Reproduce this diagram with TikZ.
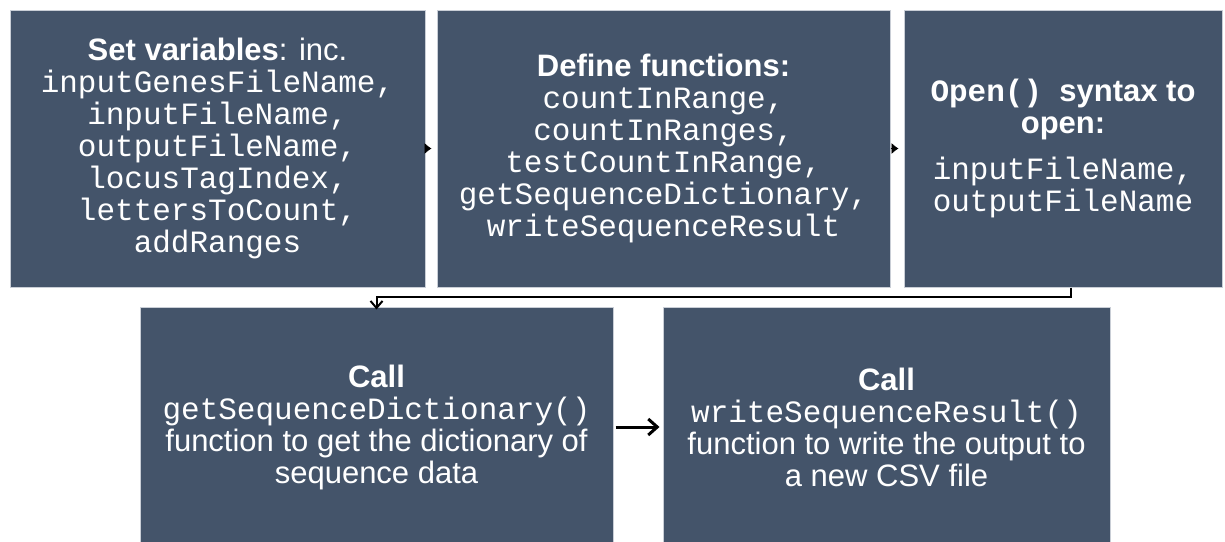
\documentclass[tikz,border=0pt]{standalone}
\usepackage{fontspec}
\setmainfont{Liberation Sans}
\setmonofont{Liberation Mono}
\usetikzlibrary{arrows.meta}
\definecolor{boxfill}{HTML}{44546A}
\definecolor{boxedge}{HTML}{C9CED6}
\tikzset{
  stepbox/.style={draw=boxedge, line width=1pt, fill=boxfill, text=white, align=center,
    inner sep=0pt, font=\fontsize{31}{32}\selectfont},
  smallarrow/.style={-{Latex[length=7,width=11]}, line width=0.6pt, shorten >=5pt},
  bigarrow/.style={-{Straight Barb[length=9,width=16]}, line width=3pt},
  elbow/.style={-{Straight Barb[length=7,width=12]}, line width=2pt}
}
\begin{document}
\begin{tikzpicture}[x=1pt,y=-1pt]
\useasboundingbox[fill=white] (0,0) rectangle (1225,541);
\node[stepbox, minimum width=415, minimum height=277] (b1) at (217.5,148.5)
 {\textbf{Set variables}: inc.\\ \texttt{inputGenesFileName,}\\ \texttt{inputFileName,}\\ \texttt{outputFileName,}\\ \texttt{locusTagIndex,}\\ \texttt{lettersToCount,}\\ \texttt{addRanges}};
\node[stepbox, minimum width=453, minimum height=277] (b2) at (663.5,148.5)
 {\textbf{Define functions:}\\ \texttt{countInRange,}\\ \texttt{countInRanges,}\\ \texttt{testCountInRange,}\\ \texttt{getSequenceDictionary,}\\ \texttt{writeSequenceResult}};
\node[stepbox, minimum width=318, minimum height=277] (b3) at (1063,148.5)
 {\textbf{\texttt{Open()}\ \ syntax to}\\ \textbf{open:}\\[14pt] \texttt{inputFileName,}\\ \texttt{outputFileName}};
\node[stepbox, minimum width=473, minimum height=240] (b4) at (376.5,427)
 {\textbf{Call}\\ \texttt{getSequenceDictionary()}\\ function to get the dictionary of\\ sequence data};
\node[stepbox, minimum width=447, minimum height=240] (b5) at (886.5,427)
 {\textbf{Call}\\ \texttt{writeSequenceResult()}\\ function to write the output to\\ a new CSV file};
\draw[smallarrow] (b1.east) -- (b2.west);
\draw[smallarrow] (b2.east) -- (b3.west);
\coordinate (c3) at ([xshift=8]b3.south);
\draw[elbow] (c3) -- ++(0,9) -| ([yshift=-3]b4.north);
\draw[bigarrow] ([xshift=2]b4.east) -- ([xshift=-3]b5.west);
\end{tikzpicture}
\end{document}
